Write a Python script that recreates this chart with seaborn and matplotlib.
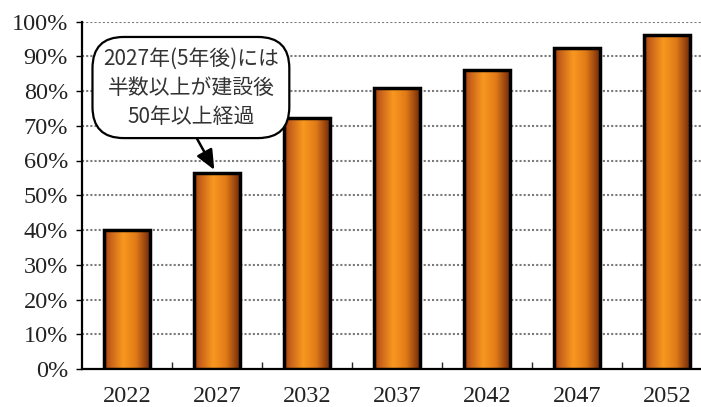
import matplotlib
matplotlib.use("Agg")
import matplotlib.pyplot as plt
from matplotlib.colors import LinearSegmentedColormap
from matplotlib.ticker import FixedLocator, FuncFormatter
import numpy as np
import pandas as pd
import seaborn as sns

years = ["2022", "2027", "2032", "2037", "2042", "2047", "2052"]
ratios = [40.0, 56.5, 72.2, 80.8, 86.0, 92.5, 96.2]
y_ticks = [0, 10, 20, 30, 40, 50, 60, 70, 80, 90, 100]
note_text = "2027年(5年後)には\n半数以上が建設後\n50年以上経過"

df = pd.DataFrame({"year": years, "ratio": ratios})

sns.set_style("white")
fig = plt.figure(figsize=(7.01, 4.07), dpi=100)
ax = fig.add_axes([82 / 701, 38 / 407, 630 / 701, 347.5 / 407])

sns.barplot(data=df, x="year", y="ratio", ax=ax, width=0.51,
            color="#f7941d", edgecolor="black", linewidth=2.5, zorder=3)

cmap = LinearSegmentedColormap.from_list(
    "bar", [(0.0, "#953a0e"), (0.12, "#c45e1a"), (0.42, "#f9981f"),
            (0.7, "#e07a18"), (1.0, "#742a0a")])
grad = np.linspace(0, 1, 256).reshape(1, -1)
for p in ax.patches:
    x0, w, h = p.get_x(), p.get_width(), p.get_height()
    im = ax.imshow(grad, cmap=cmap, aspect="auto",
                   extent=[x0, x0 + w, 0, h], zorder=3.5,
                   interpolation="bicubic")
    im.set_clip_path(p)
    p.set_facecolor("none")
    p.set_zorder(4)

ax.set_xlim(-0.5, len(years) - 0.5)
ax.set_ylim(0, 100)
ax.yaxis.set_major_locator(FixedLocator(y_ticks))
ax.yaxis.set_major_formatter(FuncFormatter(lambda v, _: f"{int(v)}%"))
ax.set_xlabel("")
ax.set_ylabel("")

for v in y_ticks[1:]:
    ax.axhline(v, color="#7a7a7a", linestyle=(0, (1, 1)), linewidth=1.5, zorder=1)

for s in ["top", "right"]:
    ax.spines[s].set_visible(False)
for s in ["left", "bottom"]:
    ax.spines[s].set_color("black")
    ax.spines[s].set_linewidth(1.6)

serif = ["Liberation Serif", "DejaVu Serif"]
ax.tick_params(axis="y", direction="out", length=4, width=1, left=True,
               labelsize=17.5, pad=6, colors="black", labelcolor="#222222")
ax.tick_params(axis="x", which="major", length=0, labelsize=17.5, pad=12,
               labelcolor="#222222")
ax.set_xticks(np.arange(0.5, len(years) - 0.5), minor=True)
ax.tick_params(axis="x", which="minor", direction="in", length=5, width=1,
               bottom=True)
for lab in ax.get_xticklabels() + ax.get_yticklabels():
    lab.set_fontfamily(serif)

ax.annotate(note_text, xy=(0.97, 57.3), xytext=(0.71, 81.0),
            textcoords="data", ha="center", va="center",
            fontsize=15, color="#333333",
            family=["Noto Sans CJK JP", "DejaVu Sans"], linespacing=1.42,
            bbox=dict(boxstyle="round,pad=0.5,rounding_size=1.5",
                      facecolor="white", edgecolor="black", linewidth=1.6),
            arrowprops=dict(arrowstyle="-|>,head_length=0.8,head_width=0.35",
                            color="black", linewidth=1.8,
                            shrinkA=0, shrinkB=0,
                            relpos=(0.5, 0.0)),
            zorder=6)

fig.savefig("out.png", dpi=100)
